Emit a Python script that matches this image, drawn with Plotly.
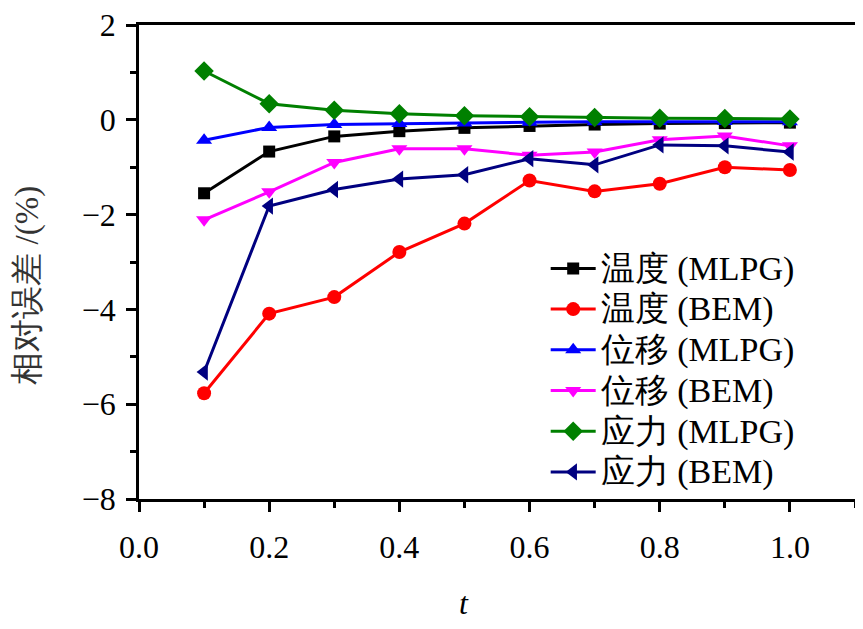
import plotly.graph_objects as go

t = [0.1, 0.2, 0.3, 0.4, 0.5, 0.6, 0.7, 0.8, 0.9, 1.0]

temp_mlpg = [-1.55, -0.67, -0.35, -0.24, -0.17, -0.13, -0.10, -0.08, -0.07, -0.06]
temp_bem = [-5.77, -4.09, -3.74, -2.79, -2.19, -1.28, -1.51, -1.35, -1.00, -1.06]
disp_mlpg = [-0.43, -0.16, -0.10, -0.08, -0.065, -0.05, -0.04, -0.035, -0.035, -0.04]
disp_bem = [-2.11, -1.52, -0.90, -0.61, -0.61, -0.75, -0.68, -0.42, -0.34, -0.55]
stress_mlpg = [1.03, 0.34, 0.20, 0.13, 0.085, 0.065, 0.05, 0.035, 0.03, 0.015]
stress_bem = [-5.32, -1.82, -1.47, -1.25, -1.16, -0.82, -0.95, -0.53, -0.55, -0.68]

names = ["温度 (MLPG)", "温度 (BEM)", "位移 (MLPG)", "位移 (BEM)", "应力 (MLPG)", "应力 (BEM)"]
series = [temp_mlpg, temp_bem, disp_mlpg, disp_bem, stress_mlpg, stress_bem]
colors = ["#000000", "#FF0000", "#0000FF", "#FF00FF", "#008000", "#000080"]
symbols = ["square", "circle", "triangle-up", "triangle-down", "diamond", "triangle-left"]
sizes = [12, 14, 14, 14, 15, 15]

FONT = "Liberation Serif, Times New Roman, serif"

fig = go.Figure()
for n, s, c, m, sz in zip(names, series, colors, symbols, sizes):
    fig.add_trace(go.Scatter(
        x=t, y=s, name='<span style="font-size:34px">' + n + '</span>',
        mode="lines+markers",
        line=dict(color=c, width=3),
        marker=dict(symbol=m, size=sz, color=c, line=dict(width=0)),
    ))

axis_common = dict(
    showgrid=False, zeroline=False, showline=True, linecolor="black",
    linewidth=2.5, mirror=True, ticks="outside", tickwidth=2.5, ticklen=10,
    tickcolor="black", tickfont=dict(family=FONT, size=32, color="black"),
    automargin=False, ticklabeloverflow="allow",
)

fig.update_xaxes(range=[0, 1.1], dtick=0.2, tick0=0, tickformat=".1f",
                 ticklabelstandoff=8,
                 minor=dict(dtick=0.1, ticks="outside", ticklen=6, tickwidth=2.5, tickcolor="black"),
                 **axis_common)
fig.update_yaxes(range=[-8, 2], dtick=2, tick0=0, ticklabelstandoff=4,
                 minor=dict(dtick=1, ticks="outside", ticklen=6, tickwidth=2.5, tickcolor="black"),
                 **axis_common)

fig.add_annotation(x=0.5, xref="x", y=-0.219, yref="paper", text="<i>t</i>",
                   xanchor="center", yanchor="middle",
                   showarrow=False, font=dict(family=FONT, size=32, color="black"))
fig.add_annotation(x=-0.155, xref="paper", y=0.45, yref="paper", text="相对误差 /(%)",
                   xanchor="center", yanchor="middle",
                   textangle=-90, showarrow=False,
                   font=dict(family=FONT, size=33, color="#333333"))

fig.update_layout(
    width=847, height=613,
    margin=dict(l=131, r=0, t=17, b=122, autoexpand=False),
    font=dict(family=FONT),
    paper_bgcolor="white", plot_bgcolor="white",
    showlegend=True,
    legend=dict(x=0.568, y=0.54, xanchor="left", yanchor="top",
                bgcolor="rgba(0,0,0,0)", font=dict(family=FONT, size=29, color="black"),
                tracegroupgap=0, itemwidth=45),
)

fig.write_html("out.html", config={"displayModeBar": False})
